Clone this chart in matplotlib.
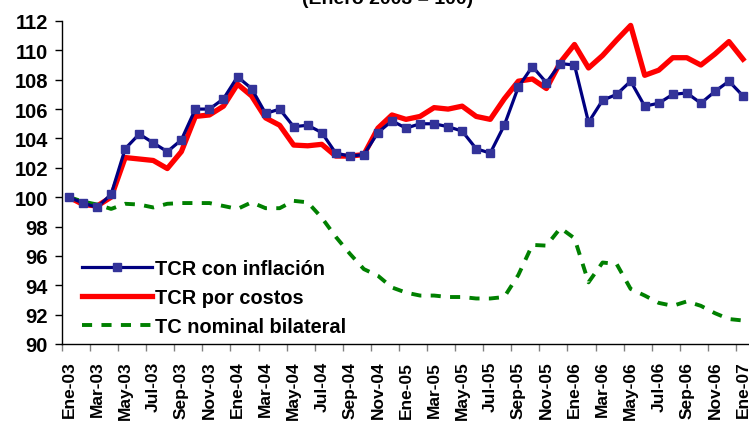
import matplotlib
matplotlib.use("Agg")
import matplotlib.pyplot as plt

plt.rcParams['font.family'] = ['Liberation Sans', 'DejaVu Sans']
plt.rcParams['font.weight'] = 'bold'

meses = ['Ene', 'Feb', 'Mar', 'Abr', 'May', 'Jun', 'Jul', 'Ago', 'Sep', 'Oct', 'Nov', 'Dic']
anios = ['03', '04', '05', '06']
fechas = [m + '-' + a for a in anios for m in meses] + ['Ene-07']

# TCR con inflacion (indice Ene-2003 = 100)
tcr_inflacion = [100.0, 99.6, 99.3, 100.2, 103.3, 104.3, 103.7, 103.1, 103.9, 106.0, 106.0, 106.7,
                 108.2, 107.4, 105.7, 106.0, 104.8, 104.9, 104.4, 103.0, 102.8, 102.9, 104.4, 105.2,
                 104.7, 105.0, 105.0, 104.8, 104.5, 103.3, 103.0, 104.9, 107.5, 108.9, 107.8, 109.1,
                 109.0, 105.1, 106.6, 107.0, 107.9, 106.2, 106.4, 107.0, 107.1, 106.4, 107.2, 107.9,
                 106.9]
# TCR por costos
tcr_costos = [100.0, 99.5, 99.4, 100.0, 102.7, 102.6, 102.5, 101.95, 103.1, 105.5, 105.6, 106.2,
              107.7, 106.9, 105.4, 104.9, 103.55, 103.5, 103.6, 102.8, 102.8, 102.9, 104.7, 105.6,
              105.3, 105.5, 106.1, 106.0, 106.2, 105.5, 105.3, 106.7, 107.9, 108.05, 107.4, 109.2,
              110.4, 108.8, 109.65, 110.7, 111.7, 108.3, 108.65, 109.5, 109.5, 109.0, 109.75, 110.6,
              109.4]
# TC nominal bilateral
tc_nominal = [100.0, 99.7, 99.5, 99.2, 99.55, 99.5, 99.3, 99.55, 99.6, 99.6, 99.6, 99.4,
              99.2, 99.65, 99.25, 99.25, 99.75, 99.65, 98.6, 97.3, 96.15, 95.1, 94.65, 93.85,
              93.5, 93.3, 93.3, 93.2, 93.2, 93.1, 93.1, 93.2, 94.7, 96.75, 96.7, 97.9,
              97.2, 94.2, 95.55, 95.45, 93.75, 93.3, 92.8, 92.6, 92.9, 92.6, 92.1, 91.7,
              91.6]

x = list(range(len(fechas)))

fig = plt.figure(figsize=(7.49, 4.27), dpi=100)
ax = fig.add_axes([62 / 749, 1 - 345 / 427, 688 / 749, 323 / 427])

ax.plot(x, tcr_inflacion, color='#000080', lw=2.3, marker='s', ms=6,
        mfc='#333399', mec='#333399', label='TCR con inflación', zorder=3)
ax.plot(x, tcr_costos, color='#FF0000', lw=3.8, label='TCR por costos', zorder=2)
ax.plot(x, tc_nominal, color='#008000', lw=2.8, ls=(0, (2.6, 2.4)),
        label='TC nominal bilateral', zorder=2)

ax.set_xlim(-0.5, len(fechas) - 0.5)
ax.set_ylim(90, 112)
ax.set_yticks(range(90, 113, 2))
ax.tick_params(axis='y', labelsize=14.5, direction='out', length=5, width=1, pad=5)

# ticks between categories, labels on even months
ax.set_xticks([i - 0.5 for i in range(0, len(fechas) + 1, 2)])
ax.set_xticklabels([])
ax.set_xticks(x[::2], minor=True)
ax.set_xticklabels(fechas[::2], minor=True, rotation=90, fontsize=12.5)
ax.tick_params(axis='x', which='major', direction='out', length=5, width=1, color='#808080')
ax.tick_params(axis='x', which='minor', length=0, pad=12)

for s in ['top', 'right']:
    ax.spines[s].set_visible(False)
ax.spines['left'].set_linewidth(1)
ax.spines['bottom'].set_linewidth(1)

ax.legend(loc='lower left', bbox_to_anchor=(0.008, -0.02), frameon=False,
          fontsize=14.4, handlelength=3.5, handletextpad=0.15, labelspacing=0.5,
          borderaxespad=0.3)

fig.text(0.517, 1 - 4 / 427, '(Enero 2003 = 100)', ha='center', va='baseline',
         fontsize=14, fontweight='bold')

fig.savefig('out.png', dpi=100)
